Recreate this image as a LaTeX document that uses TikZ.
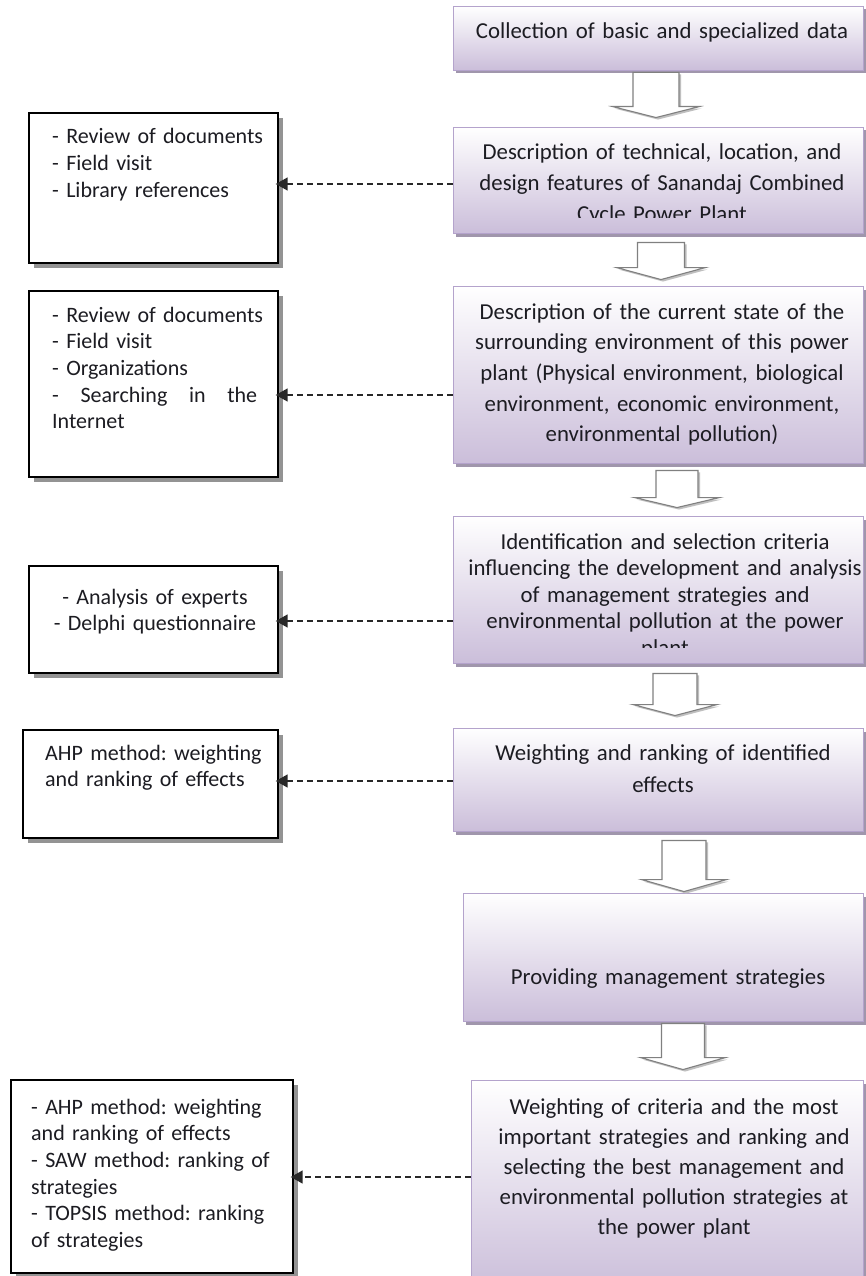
\documentclass[tikz,border=0pt]{standalone}
\usepackage{fontspec}
\setmainfont{Carlito}
\usetikzlibrary{shadows,arrows.meta,calc}
\definecolor{boxpurple}{RGB}{203,190,218}
\definecolor{boxedge}{RGB}{180,163,204}
\definecolor{boxshadow}{RGB}{160,150,172}
\definecolor{txt}{RGB}{28,28,34}
\definecolor{arrowgray}{RGB}{128,128,128}
\definecolor{dashgray}{RGB}{40,40,40}
% #1 upper node, #2 lower node, #3 centre x, #4 half shaft, #5 half head,
% #6 head length, #7 gap above lower node, #8 gap below upper node
\newcommand\blockarrow[8]{%
  \draw[blockarr] let \p1=(#1.south), \p2=(#2.north) in
    (#3pt-#4pt,\y1-#8pt) -- (#3pt-#4pt,\y2+#7pt+#6pt) -- (#3pt-#5pt,\y2+#7pt+#6pt)
    -- (#3pt,\y2+#7pt) -- (#3pt+#5pt,\y2+#7pt+#6pt) -- (#3pt+#4pt,\y2+#7pt+#6pt)
    -- (#3pt+#4pt,\y1-#8pt) -- cycle;}
\begin{document}
\begin{tikzpicture}[x=1pt,y=-1pt,
  pbox/.style={draw=boxedge, line width=0.9pt, top color=white, bottom color=boxpurple,
    inner sep=0pt, drop shadow={shadow xshift=3pt, shadow yshift=-3.5pt, fill=boxshadow, opacity=1}},
  lbox/.style={draw=black, line width=1.4pt, fill=white, inner sep=0pt,
    drop shadow={shadow xshift=5pt, shadow yshift=-5pt, fill=gray!85, opacity=1}},
  ptext/.style={text=txt, inner sep=0pt, text width=430pt, align=center, anchor=base},
  ltext/.style={text=txt, inner sep=0pt, text width=250pt, align=left, anchor=base west,
    font=\fontsize{22}{26.7}\selectfont\frenchspacing},
  blockarr/.style={draw=arrowgray, line width=1.1pt, fill=white, line join=miter,
    drop shadow={shadow xshift=2pt, shadow yshift=-2pt, fill=black!25, opacity=1}},
  dasharr/.style={draw=dashgray, line width=1.5pt, dash pattern=on 6pt off 4pt,
    -{Triangle[length=12pt,width=13pt]}, shorten >=-3pt}
]
\useasboundingbox (0,0) rectangle (866,1276);
\fill[white] (0,0) rectangle (866,1276);

% main process boxes
\node[pbox, minimum width=410pt, minimum height=64pt] (B1) at (658,38) {};
\node[pbox, minimum width=410pt, minimum height=106pt] (B2) at (658,180) {};
\node[pbox, minimum width=410pt, minimum height=177pt] (B3) at (658,374.5) {};
\node[pbox, minimum width=410pt, minimum height=147pt] (B4) at (658,589.5) {};
\node[pbox, minimum width=410pt, minimum height=103pt] (B5) at (658,779.5) {};
\node[pbox, minimum width=400pt, minimum height=128pt] (B6) at (663,957) {};
\node[pbox, minimum width=392pt, minimum height=210pt] (B7) at (667,1185) {};

\node[ptext, font=\fontsize{22.8}{31}\selectfont\frenchspacing] (T1) at (662,39) {Collection of basic and specialized data};
\begin{scope}
  \clip (B2.north west) rectangle ($(B2.south east)+(0,-16)$);
  \node[ptext, font=\fontsize{22.8}{31}\selectfont\frenchspacing] (T2) at (662,160)
    {Description of technical, location, and\\design features of Sanandaj Combined\\Cycle Power Plant};
\end{scope}
\node[ptext, font=\fontsize{22.8}{30.7}\selectfont\frenchspacing] (T3) at (662,319)
  {Description of the current state of the\\surrounding environment of this power\\plant (Physical environment, biological\\environment, economic environment,\\environmental pollution)};
\begin{scope}
  \clip (B4.north west) rectangle ($(B4.south east)+(0,-16)$);
  \node[ptext, font=\fontsize{22.8}{26.5}\selectfont\frenchspacing] (T4) at (665,549)
    {Identification and selection criteria\\influencing the development and analysis\\of management strategies and\\environmental pollution at the power\\plant};
\end{scope}
\node[ptext, font=\fontsize{22.8}{32}\selectfont\frenchspacing] (T5) at (663,760)
  {Weighting and ranking of identified\\effects};
\node[ptext, font=\fontsize{22.8}{31}\selectfont\frenchspacing] (T6) at (668,984) {Providing management strategies};
\node[ptext, font=\fontsize{22.8}{30}\selectfont\frenchspacing] (T7) at (674,1114)
  {Weighting of criteria and the most\\important strategies and ranking and\\selecting the best management and\\environmental pollution strategies at\\the power plant};

% side boxes
\node[lbox, minimum width=249pt, minimum height=150pt] (L1) at (153.5,188) {};
\node[lbox, minimum width=249pt, minimum height=186pt] (L2) at (153.5,384) {};
\node[lbox, minimum width=249pt, minimum height=107pt] (L3) at (153.5,619.5) {};
\node[lbox, minimum width=255pt, minimum height=108pt] (L4) at (150.5,784) {};
\node[lbox, minimum width=282pt, minimum height=193pt] (L5) at (152,1176.5) {};

\node[ltext] (S1) at (52,144) {- Review of documents\\- Field visit\\- Library references};
\node[ltext] (S2) at (52,322) {- Review of documents\\- Field visit\\- Organizations\\\makebox[205pt][l]{-\hfill Searching\hfill in\hfill the}\\Internet};
\node[ltext, align=center, anchor=base] (S3) at (155,604) {- Analysis of experts\\- Delphi questionnaire};
\node[ltext] (S4) at (45,760) {AHP method: weighting\\and ranking of effects};
\node[ltext] (S5) at (31,1114) {- AHP method: weighting\\and ranking of effects\\- SAW method: ranking of\\strategies\\- TOPSIS method: ranking\\of strategies};

% hollow block arrows between process boxes
\blockarrow{B1}{B2}{656}{23}{43.5}{11}{9}{2}
\blockarrow{B2}{B3}{661}{23.5}{44.5}{12}{6}{9}
\blockarrow{B3}{B4}{677}{21}{42.5}{10}{8}{7}
\blockarrow{B4}{B5}{675}{22}{42}{11}{12}{10}
\blockarrow{B5}{B6}{684}{22}{42.5}{12}{1}{9}
\blockarrow{B6}{B7}{683}{21.5}{42.5}{12}{10}{2}

% dashed connectors
\coordinate (d1) at (0,184);
\coordinate (d2) at (0,395);
\coordinate (d3) at (0,621);
\coordinate (d4) at (0,781);
\coordinate (d5) at (0,1177);
\draw[dasharr] (B2.west |- d1) -- (L1.east |- d1);
\draw[dasharr] (B3.west |- d2) -- (L2.east |- d2);
\draw[dasharr] (B4.west |- d3) -- (L3.east |- d3);
\draw[dasharr] (B5.west |- d4) -- (L4.east |- d4);
\draw[dasharr] (B7.west |- d5) -- (L5.east |- d5);
\end{tikzpicture}
\end{document}
